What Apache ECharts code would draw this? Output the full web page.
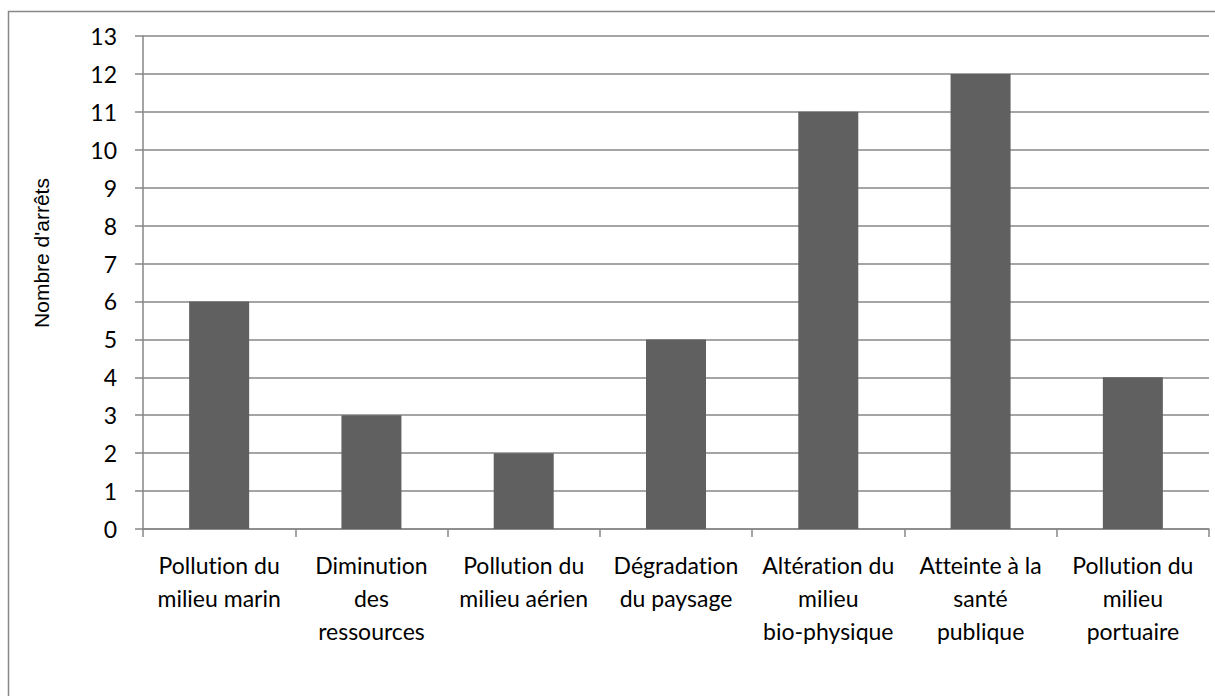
<!DOCTYPE html>
<html>
<head>
<meta charset="utf-8">
<script src="https://cdn.jsdelivr.net/npm/echarts@6/dist/echarts.min.js"></script>
<style>
html,body{margin:0;padding:0;background:#fff;}
#chart{width:1215px;height:696px;}
svg text{font-variant-ligatures:none !important;}
</style>
</head>
<body>
<div id="chart"></div>
<script>
const categories = [
  "Pollution du\nmilieu marin",
  "Diminution\ndes\nressources",
  "Pollution du\nmilieu aérien",
  "Dégradation\ndu paysage",
  "Altération du\nmilieu\nbio-physique",
  "Atteinte à la\nsanté\npublique",
  "Pollution du\nmilieu\nportuaire"
];
const values = [6, 3, 2, 5, 11, 12, 4];
const yAxisTitle = "Nombre d'arrêts";
const yMin = 0, yMax = 13, yStep = 1;

const chart = echarts.init(document.getElementById('chart'), null, {renderer: 'svg'});
const gray = '#878787';
const labelFont = 'Lato, "Open Sans", sans-serif';
chart.setOption({
  animation: false,
  backgroundColor: '#ffffff',
  graphic: [{
    type: 'rect',
    shape: {x: 8.5, y: 11.5, width: 1400, height: 1000},
    style: {fill: 'none', stroke: gray, lineWidth: 1.5},
    silent: true,
    z: 0
  }, {
    type: 'text',
    x: 41, y: 253,
    rotation: Math.PI / 2,
    style: {
      text: yAxisTitle,
      fill: '#000',
      fontFamily: '"Liberation Sans", Arial, sans-serif',
      fontSize: 21,
      align: 'center',
      verticalAlign: 'middle'
    },
    silent: true,
    z: 10
  }],
  grid: {left: 143, top: 36, right: 6, bottom: 167, containLabel: false},
  xAxis: {
    type: 'category',
    data: categories,
    axisLine: {lineStyle: {color: gray, width: 1.5}},
    axisTick: {show: true, length: 8, lineStyle: {color: gray, width: 1.5}},
    axisLabel: {
      color: '#000', fontFamily: labelFont, fontSize: 23, lineHeight: 33,
      margin: 19, interval: 0, align: 'center'
    },
    splitLine: {show: false}
  },
  yAxis: {
    type: 'value',
    min: yMin, max: yMax, interval: yStep,
    axisLine: {show: true, lineStyle: {color: gray, width: 1.5}},
    axisTick: {show: true, length: 8, lineStyle: {color: gray, width: 1.5}},
    axisLabel: {color: '#000', fontFamily: labelFont, fontSize: 23, margin: 26},
    splitLine: {show: true, lineStyle: {color: gray, width: 1.5}}
  },
  series: [{
    type: 'bar',
    data: values,
    barWidth: 60,
    itemStyle: {color: '#606060'}
  }]
});
</script>
</body>
</html>
